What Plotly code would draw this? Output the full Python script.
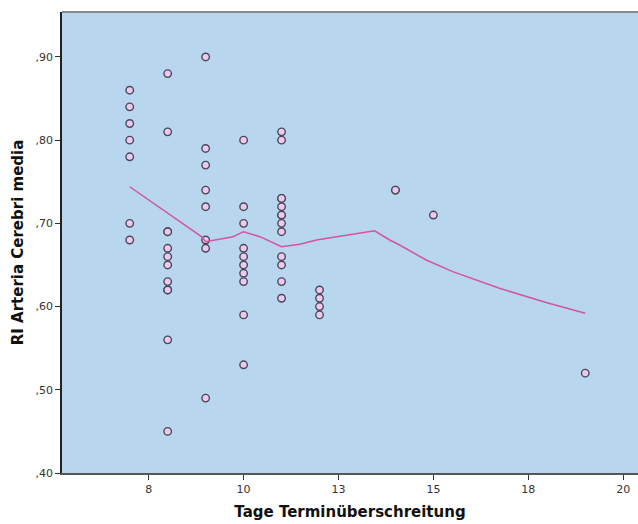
import plotly.graph_objects as go

# Days past due date and RI of the middle cerebral artery, grouped by day
days = [7, 8, 9, 10, 11, 12, 14, 15, 19]
ri_by_day = [
    [0.86, 0.84, 0.82, 0.80, 0.78, 0.70, 0.68],
    [0.88, 0.81, 0.69, 0.69, 0.67, 0.66, 0.65, 0.63, 0.62, 0.62, 0.56, 0.45],
    [0.90, 0.79, 0.77, 0.74, 0.72, 0.68, 0.67, 0.49],
    [0.80, 0.72, 0.70, 0.67, 0.66, 0.65, 0.64, 0.63, 0.59, 0.53],
    [0.81, 0.80, 0.73, 0.73, 0.72, 0.71, 0.71, 0.70, 0.69, 0.66, 0.65, 0.63, 0.61],
    [0.62, 0.61, 0.60, 0.59],
    [0.74, 0.74],
    [0.71],
    [0.52],
]

# Loess fit line (total)
fit_x = [7.0, 8.0, 8.89, 9.0, 9.37, 9.72, 10.0, 10.43, 11.0, 11.48, 11.92,
         12.79, 13.45, 13.85, 14.11, 14.81, 15.51, 16.74, 17.97, 19.0]
fit_y = [0.744, 0.712, 0.684, 0.678, 0.681, 0.684, 0.690, 0.684, 0.672, 0.675,
         0.680, 0.686, 0.691, 0.680, 0.674, 0.656, 0.642, 0.622, 0.605, 0.592]

x_tickvals = [7.5, 10, 12.5, 15, 17.5, 20]
x_ticktext = ["8", "10", "13", "15", "18", "20"]
y_tickvals = [0.4, 0.5, 0.6, 0.7, 0.8, 0.9]
y_ticktext = [",40", ",50", ",60", ",70", ",80", ",90"]

xs, ys = [], []
for d, vals in zip(days, ri_by_day):
    for v in vals:
        xs.append(d)
        ys.append(v)

fig = go.Figure()
fig.add_trace(go.Scatter(
    x=xs, y=ys, mode="markers",
    marker=dict(size=7.5, color="#ecc8f2", line=dict(color="#4a4a55", width=1.4)),
    showlegend=False, hoverinfo="x+y",
))
fig.add_trace(go.Scatter(
    x=fit_x, y=fit_y, mode="lines",
    line=dict(color="#d4559e", width=1.5),
    showlegend=False, hoverinfo="skip",
))

font_family = "DejaVu Sans, Arial, sans-serif"
fig.update_layout(
    width=638, height=524,
    margin=dict(l=62, r=0, t=12, b=51),
    paper_bgcolor="white",
    plot_bgcolor="#b8d6ed",
    font=dict(family=font_family, color="#333333"),
    xaxis=dict(
        range=[5.216, 20.39],
        tickvals=x_tickvals, ticktext=x_ticktext,
        ticks="outside", ticklen=5, tickwidth=1, tickcolor="#333333",
        tickfont=dict(size=11, color="#333333"),
        showgrid=False, zeroline=False,
        showline=True, linecolor="#555555", linewidth=1.5,
        title=dict(text="<b>Tage Terminüberschreitung</b>",
                   font=dict(size=15, color="#111111"), standoff=12),
    ),
    yaxis=dict(
        range=[0.40, 0.954],
        tickvals=y_tickvals, ticktext=y_ticktext,
        ticks="outside", ticklen=5, tickwidth=1, tickcolor="#333333",
        tickfont=dict(size=11, color="#333333"),
        showgrid=False, zeroline=False,
        showline=True, linecolor="#222222", linewidth=1.5,
        title=dict(text="<b>RI Arteria Cerebri media</b>",
                   font=dict(size=15, color="#111111"), standoff=8),
    ),
    shapes=[dict(type="line", xref="paper", yref="paper", x0=0, x1=1, y0=1, y1=1,
                 line=dict(color="#8a8a8a", width=2))],
)

fig.write_html("out.html")
